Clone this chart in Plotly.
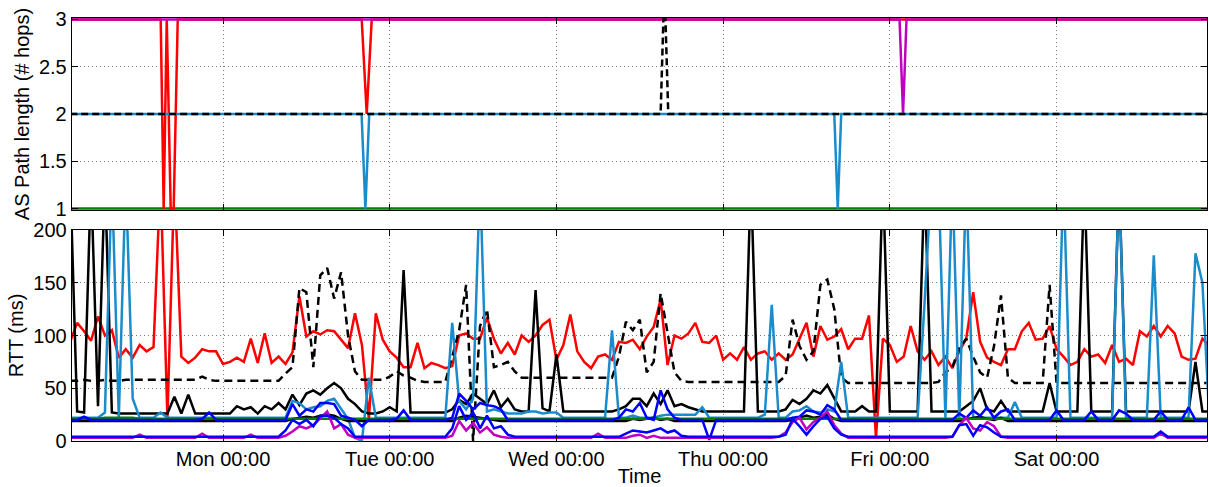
import plotly.graph_objects as go
import pandas as pd

# ---------------- time base (hourly samples, hours relative to Monday 00:00) ----------------
MON = pd.Timestamp("2012-01-02 00:00")
hours = list(range(-22, 143))
times = [MON + pd.Timedelta(hours=h) for h in hours]

day_ticks = [MON + pd.Timedelta(days=d) for d in range(6)]
day_labels = ["Mon 00:00", "Tue 00:00", "Wed 00:00", "Thu 00:00", "Fri 00:00", "Sat 00:00"]

# ---------------- AS path length (sparse change points, hours rel. Monday) ----------------
green_hops_h = [-22, 142]
green_hops = [1, 1]
red_hops_h = [-22, -8.97, -8.54, -8.1, -7.53, -7.1, -6.52, 19.97, 20.69, 21.41, 142]
red_hops = [3, 3, 1, 3, 1, 1, 3, 3, 2, 3, 3]
magenta_hops_h = [-22, 97.4, 97.9, 98.4, 142]
magenta_hops = [3, 3, 2, 3, 3]
cyan_hops_h = [-22, 19.95, 20.5, 21.05, 88.0, 88.5, 89.0, 142]
cyan_hops = [2, 2, 1, 2, 2, 1, 2, 2]
dashed_hops_h = [-22, 63.0, 63.4, 63.7, 64.1, 142]
dashed_hops = [2, 2, 3, 3, 2, 2]

# ---------------- RTT (ms), hourly from h=-22 to h=142 ----------------
rtt_red = [
    94, 112, 104, 95, 118, 100, 105, 79, 87, 79, 91, 85,
    89, 250, 21, 250, 80, 74, 79, 87, 85, 85, 73, 75,
    79, 75, 97, 74, 102, 74, 80, 73, 84, 137, 99, 104,
    101, 105, 104, 96, 88, 121, 91, 21, 121, 96, 85, 79,
    70, 70, 93, 69, 74, 72, 69, 71, 100, 102, 97, 97,
    117, 97, 83, 93, 82, 100, 94, 100, 110, 115, 77, 91,
    120, 85, 75, 69, 80, 82, 77, 94, 93, 96, 87, 99,
    108, 134, 72, 100, 97, 102, 112, 94, 93, 100, 77, 83,
    77, 89, 77, 83, 85, 77, 83, 77, 82, 97, 112, 80,
    109, 96, 99, 106, 87, 97, 97, 119, 3, 97, 91, 75,
    80, 109, 85, 77, 85, 72, 80, 69, 85, 97, 141, 94,
    79, 75, 72, 87, 87, 104, 112, 96, 97, 109, 87, 80,
    72, 75, 87, 80, 82, 74, 91, 75, 78, 72, 104, 99,
    109, 99, 109, 102, 80, 77, 78, 97, 90,
]
rtt_dashed = [
    57, 57, 58, 57, 57, 58, 57, 57, 58, 58, 58, 58,
    58, 58, 58, 58, 58, 58, 58, 61, 58, 57, 57, 57,
    57, 57, 57, 57, 57, 57, 57, 64, 70, 145, 141, 70,
    157, 164, 135, 160, 100, 66, 58, 58, 58, 58, 61, 66,
    62, 60, 57, 56, 56, 56, 56, 80, 105, 148, 0, 109,
    125, 70, 72, 75, 66, 60, 60, 60, 60, 60, 60, 60,
    60, 60, 60, 60, 60, 60, 60, 80, 113, 105, 115, 65,
    75, 140, 104, 65, 57, 56, 56, 56, 56, 56, 56, 56,
    56, 56, 56, 56, 56, 56, 56, 62, 115, 90, 77, 85,
    148, 153, 125, 60, 55, 55, 55, 55, 55, 55, 55, 55,
    55, 55, 55, 55, 55, 56, 65, 70, 88, 97, 80, 65,
    60, 90, 138, 60, 55, 55, 55, 55, 55, 148, 55, 55,
    55, 55, 55, 55, 55, 55, 55, 55, 55, 55, 55, 55,
    55, 55, 55, 55, 55, 55, 55, 55, 55,
]
rtt_black = [
    250, 28, 27, 250, 33, 250, 27, 26, 26, 26, 26, 26,
    26, 26, 26, 42, 26, 44, 26, 26, 26, 26, 26, 26,
    33, 30, 32, 26, 33, 30, 36, 30, 44, 34, 45, 48,
    44, 50, 55, 50, 40, 35, 28, 26, 26, 28, 32, 28,
    162, 27, 27, 27, 27, 27, 27, 30, 39, 35, 45, 40,
    35, 48, 32, 40, 30, 28, 28, 143, 31, 28, 82, 28,
    28, 28, 28, 28, 28, 28, 28, 30, 33, 40, 40, 33,
    45, 35, 48, 33, 35, 32, 30, 28, 28, 28, 28, 28,
    28, 28, 250, 28, 28, 28, 28, 30, 39, 35, 40, 48,
    45, 53, 40, 28, 28, 28, 33, 28, 28, 250, 28, 28,
    28, 28, 28, 250, 28, 28, 28, 28, 28, 33, 38, 50,
    30, 28, 38, 28, 28, 28, 28, 28, 28, 55, 28, 28,
    28, 28, 250, 28, 28, 28, 28, 250, 28, 28, 28, 28,
    28, 28, 28, 28, 28, 28, 75, 28, 28,
]
rtt_black_low = [
    19, 19, 19, 19, 19, 19, 19, 19, 19, 19, 19, 19,
    19, 19, 19, 19, 19, 19, 19, 19, 19, 19, 19, 19,
    19, 19, 19, 19, 19, 19, 19, 19, 21, 22, 23, 22,
    24, 25, 24, 21, 19, 19, 19, 19, 19, 19, 19, 19,
    19, 19, 19, 19, 19, 19, 19, 19, 22, 24, 23, 22,
    21, 20, 19, 19, 19, 19, 19, 19, 19, 19, 19, 19,
    19, 19, 19, 19, 19, 19, 19, 19, 19, 21, 20, 21,
    22, 20, 21, 19, 19, 19, 19, 19, 19, 19, 19, 19,
    19, 19, 19, 19, 19, 19, 19, 19, 20, 22, 24, 22,
    23, 25, 21, 19, 19, 19, 19, 19, 19, 19, 19, 19,
    19, 19, 19, 19, 19, 19, 19, 19, 19, 21, 22, 23,
    21, 20, 22, 19, 19, 19, 19, 19, 19, 19, 19, 19,
    19, 19, 19, 19, 19, 19, 19, 19, 19, 19, 19, 19,
    19, 19, 19, 19, 19, 19, 19, 19, 19,
]
rtt_green = [
    21, 21, 21, 21, 21, 22, 22, 22, 22, 22, 21, 21,
    21, 21, 21, 21, 21, 21, 21, 21, 21, 21, 21, 21,
    21, 21, 21, 21, 21, 21, 21, 21, 21, 21, 21, 21,
    21, 21, 21, 21, 21, 21, 21, 21, 21, 21, 21, 21,
    21, 21, 21, 21, 21, 21, 21, 21, 21, 21, 21, 21,
    21, 21, 21, 21, 21, 21, 21, 21, 21, 21, 21, 21,
    21, 21, 21, 21, 21, 21, 21, 21, 21, 21, 21, 21,
    21, 21, 21, 21, 21, 21, 21, 21, 21, 21, 21, 21,
    21, 21, 21, 21, 21, 21, 21, 21, 21, 21, 21, 21,
    21, 21, 21, 21, 21, 21, 21, 21, 21, 21, 21, 21,
    21, 21, 21, 21, 21, 21, 21, 21, 21, 21, 21, 21,
    21, 21, 21, 21, 21, 21, 21, 21, 21, 21, 21, 21,
    21, 21, 21, 21, 21, 21, 21, 21, 21, 21, 21, 21,
    21, 21, 21, 21, 21, 21, 21, 21, 21,
]
rtt_cyan = [
    22, 22, 22, 22, 22, 27, 250, 22, 250, 40, 22, 22,
    22, 27, 22, 22, 22, 22, 22, 22, 22, 22, 22, 22,
    22, 22, 22, 22, 22, 22, 22, 22, 38, 36, 30, 32,
    33, 38, 40, 30, 21, 3, 0, 60, 22, 22, 22, 22,
    22, 22, 22, 22, 22, 22, 22, 112, 38, 30, 40, 250,
    28, 30, 28, 26, 26, 26, 28, 28, 26, 27, 27, 22,
    22, 22, 22, 22, 22, 22, 105, 22, 22, 24, 22, 22,
    22, 24, 25, 25, 25, 25, 25, 32, 22, 22, 22, 22,
    22, 22, 22, 22, 25, 129, 22, 22, 28, 29, 33, 28,
    27, 30, 28, 75, 22, 22, 22, 22, 22, 22, 22, 22,
    22, 22, 22, 131, 250, 250, 22, 250, 22, 250, 22, 22,
    22, 22, 22, 22, 37, 22, 22, 22, 22, 22, 22, 250,
    22, 22, 22, 22, 22, 22, 22, 250, 22, 22, 22, 22,
    176, 22, 22, 22, 22, 22, 178, 150, 20,
]
rtt_blue_hi = [
    20, 20, 23, 20, 20, 20, 20, 20, 20, 20, 20, 20,
    20, 20, 20, 20, 20, 20, 20, 21, 27, 20, 20, 20,
    20, 20, 20, 20, 20, 20, 20, 20, 35, 24, 30, 28,
    36, 36, 35, 24, 22, 20, 14, 20, 20, 20, 20, 21,
    29, 20, 20, 20, 20, 20, 20, 22, 45, 38, 30, 36,
    34, 33, 30, 20, 20, 20, 20, 20, 20, 20, 20, 20,
    20, 20, 20, 20, 20, 20, 20, 22, 30, 28, 36, 22,
    20, 48, 30, 22, 20, 20, 20, 20, 1, 20, 20, 20,
    20, 20, 20, 20, 20, 20, 20, 20, 22, 23, 29, 28,
    25, 34, 30, 20, 20, 20, 20, 20, 20, 20, 20, 20,
    20, 20, 20, 20, 20, 20, 20, 20, 26, 22, 29, 24,
    32, 22, 28, 30, 20, 20, 20, 20, 20, 20, 29, 20,
    20, 20, 20, 28, 20, 20, 20, 29, 26, 20, 20, 20,
    20, 28, 20, 20, 20, 32, 20, 20, 20,
]
rtt_blue_lo = [
    4, 4, 4, 4, 4, 4, 4, 4, 4, 4, 4, 4,
    4, 4, 4, 4, 4, 4, 4, 4, 4, 4, 4, 4,
    4, 4, 4, 4, 4, 4, 4, 10, 20, 16, 20, 14,
    24, 24, 22, 16, 12, 4, 4, 4, 4, 4, 4, 4,
    4, 4, 4, 4, 4, 4, 4, 12, 33, 20, 27, 12,
    24, 12, 14, 6, 4, 4, 4, 4, 4, 4, 4, 4,
    4, 4, 4, 4, 4, 4, 4, 4, 7, 10, 9, 8,
    10, 12, 8, 10, 5, 4, 4, 4, 4, 4, 4, 4,
    4, 4, 4, 4, 4, 4, 4, 6, 21, 14, 6, 14,
    21, 23, 12, 6, 4, 4, 4, 4, 4, 4, 4, 4,
    4, 4, 4, 4, 4, 4, 4, 4, 15, 16, 5, 15,
    13, 8, 4, 4, 4, 4, 4, 4, 4, 4, 4, 4,
    4, 4, 4, 4, 4, 4, 4, 4, 4, 4, 4, 4,
    4, 9, 4, 4, 4, 4, 4, 4, 4,
]
rtt_magenta = [
    3, 3, 3, 3, 3, 3, 3, 3, 3, 3, 6, 3,
    3, 3, 3, 3, 3, 3, 3, 7, 3, 3, 3, 3,
    3, 3, 6, 3, 3, 3, 3, 5, 9, 14, 12, 15,
    22, 28, 12, 16, 6, 3, 3, 3, 3, 3, 3, 3,
    3, 3, 3, 3, 3, 3, 3, 5, 19, 10, 17, 8,
    13, 6, 4, 3, 3, 3, 3, 3, 3, 3, 3, 3,
    3, 3, 3, 3, 7, 3, 3, 3, 3, 5, 6, 3,
    5, 3, 3, 3, 3, 3, 3, 3, 3, 3, 3, 3,
    3, 3, 3, 3, 3, 3, 4, 8, 18, 22, 11, 18,
    22, 28, 15, 7, 3, 3, 3, 3, 3, 3, 3, 3,
    3, 3, 3, 3, 3, 3, 3, 4, 15, 22, 12, 10,
    18, 14, 4, 3, 3, 3, 3, 3, 3, 3, 3, 3,
    3, 3, 3, 3, 3, 3, 3, 3, 3, 3, 3, 3,
    3, 7, 3, 3, 3, 3, 3, 3, 3,
]

# ---------------- styling ----------------
RED = "#ff0000"
MAGENTA = "#bf00bf"
CYAN = "#1a8ccc"
BLUE = "#0000ff"
GREEN = "#007f00"
BLACK = "#000000"
FONT = "Liberation Sans, Arial, Helvetica, sans-serif"
LW = 2.5


def to_t(hs):
    return [MON + pd.Timedelta(hours=h) for h in hs]


fig = go.Figure()


def add(x, y, color, axis, dash="solid", width=LW):
    xa, ya = axis
    fig.add_trace(go.Scatter(x=x, y=y, mode="lines", xaxis=xa, yaxis=ya,
                             line=dict(color=color, width=width, dash=dash),
                             showlegend=False, hoverinfo="skip"))


top = ("x2", "y2")
bot = ("x", "y")

# top panel
add(to_t(green_hops_h), green_hops, GREEN, top)
add(to_t(red_hops_h), red_hops, RED, top)
add(to_t(magenta_hops_h), magenta_hops, MAGENTA, top)
add(to_t(cyan_hops_h), cyan_hops, CYAN, top)
add(to_t(dashed_hops_h), dashed_hops, BLACK, top, dash="7px,4px")

# bottom panel
add(times, rtt_red, RED, bot)
add(times, rtt_dashed, BLACK, bot, dash="8px,5px")
add(times, rtt_black, BLACK, bot)
add(times, rtt_cyan, CYAN, bot)
add(times, rtt_black_low, BLACK, bot)
add(times, rtt_green, GREEN, bot)
add(times, rtt_blue_hi, BLUE, bot)
add(times, rtt_magenta, MAGENTA, bot)
add(times, rtt_blue_lo, BLUE, bot)

x_range = [MON + pd.Timedelta(hours=-21.74), MON + pd.Timedelta(hours=141.66)]

axis_common = dict(showline=True, linecolor="black", linewidth=1.3, mirror="allticks",
                   ticks="inside", ticklen=6, tickwidth=1, tickcolor="black",
                   showgrid=True, gridcolor="#7a7a7a", griddash="1px,3px", gridwidth=1,
                   zeroline=False, automargin=False,
                   tickfont=dict(family=FONT, size=20, color="black"))

fig.update_layout(
    width=1209, height=487,
    margin=dict(l=72, r=2, t=18, b=46),
    paper_bgcolor="white", plot_bgcolor="white",
    font=dict(family=FONT, size=20, color="black"),
    xaxis=dict(domain=[0, 1], anchor="y", type="date", range=x_range,
               tickvals=day_ticks, ticktext=day_labels,
               title=dict(text="Time", font=dict(family=FONT, size=20), standoff=0),
               **axis_common),
    yaxis=dict(domain=[0, 0.4988], anchor="x", range=[0, 200],
               tickvals=[0, 50, 100, 150, 200], ticktext=["0", "50", "100", "150", "200"],
               title=dict(text="RTT (ms)", font=dict(family=FONT, size=20), standoff=4),
               **axis_common),
    xaxis2=dict(domain=[0, 1], anchor="y2", type="date", range=x_range,
                tickvals=day_ticks, showticklabels=False, matches="x",
                **axis_common),
    yaxis2=dict(domain=[0.546, 1.0], anchor="x2", range=[0.985, 3.015],
                tickvals=[1, 1.5, 2, 2.5, 3], ticktext=["1", "1.5", "2", "2.5", "3"],
                title=dict(text="AS Path length (# hops)", font=dict(family=FONT, size=20), standoff=4),
                **axis_common),
)

fig.write_html("out.html",
               config={"displayModeBar": False, "staticPlot": True},
               post_script="document.body.style.margin='0';document.body.style.overflow='hidden';")
